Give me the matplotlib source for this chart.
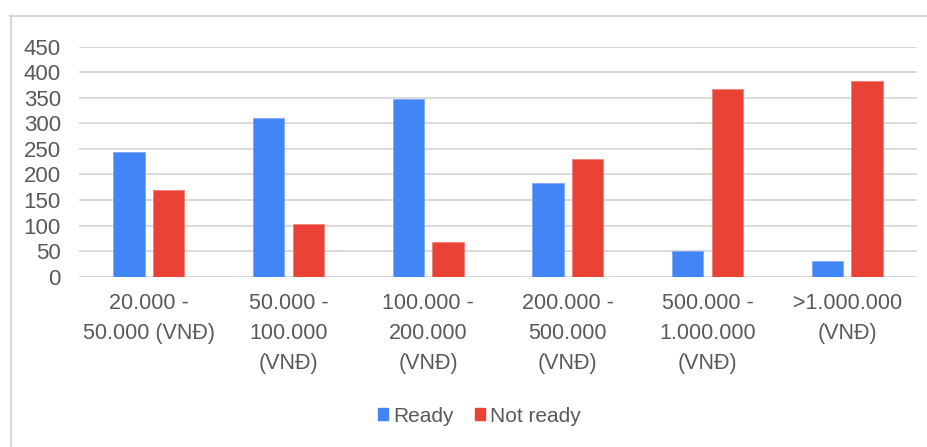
import matplotlib
matplotlib.use("Agg")
import matplotlib.pyplot as plt
import numpy as np
from matplotlib.lines import Line2D
from matplotlib.patches import Patch

categories = ["20.000 -\n50.000 (VNĐ)", "50.000 -\n100.000\n(VNĐ)", "100.000 -\n200.000\n(VNĐ)",
              "200.000 -\n500.000\n(VNĐ)", "500.000 -\n1.000.000\n(VNĐ)", ">1.000.000\n(VNĐ)"]
ready = [243, 310, 348, 184, 50, 31]
not_ready = [170, 103, 68, 230, 367, 382]
yticks = [0, 50, 100, 150, 200, 250, 300, 350, 400, 450]

plt.rcParams['font.family'] = ['Liberation Sans', 'DejaVu Sans']
W, H = 927, 447
fig = plt.figure(figsize=(W / 100, H / 100), dpi=100)
ax = fig.add_axes([79 / W, 1 - 276.7 / H, (917 - 79) / W, (276.7 - 46.7) / H])

blue = "#4285f4"
red = "#ea4335"
txt = "#595959"
grid = "#d9d9d9"

x = np.arange(len(categories))
bw = 0.222
off = 0.142
ax.bar(x - off, ready, bw, color=blue, edgecolor="#7fa9f7", linewidth=0.6, zorder=3)
ax.bar(x + off, not_ready, bw, color=red, edgecolor="#f08077", linewidth=0.6, zorder=3)

ax.set_xlim(-0.5, len(categories) - 0.5)
ax.set_ylim(0, 450)
ax.set_yticks(yticks)
ax.set_yticklabels([str(v) for v in yticks])
ax.set_xticks(x)
ax.set_xticklabels(categories, linespacing=1.55)
ax.tick_params(axis='y', length=0, pad=13, labelsize=16, labelcolor=txt)
ax.tick_params(axis='x', length=0, pad=12, labelsize=15.5, labelcolor=txt)
ax.grid(axis='y', color=grid, linewidth=1.4, zorder=0)
for s in ax.spines.values():
    s.set_visible(False)

# outer frame (left and top)
fig.add_artist(Line2D([10.5 / W, 10.5 / W], [0, 1 - 16 / H], transform=fig.transFigure,
                      color="#d9d9d9", linewidth=1.5))
fig.add_artist(Line2D([10 / W, 1], [1 - 16 / H, 1 - 16 / H], transform=fig.transFigure,
                      color="#d9d9d9", linewidth=1.5))

handles = [Patch(facecolor=blue, edgecolor=blue), Patch(facecolor=red, edgecolor=red)]
fig.legend(handles, ["Ready", "Not ready"], loc='center', bbox_to_anchor=(479.5 / W, 1 - 416 / H),
           ncol=2, frameon=False, fontsize=15, labelcolor=txt, handlelength=0.5, handleheight=0.5,
           handletextpad=0.25, columnspacing=1.0)

fig.savefig("out.png", dpi=100)
